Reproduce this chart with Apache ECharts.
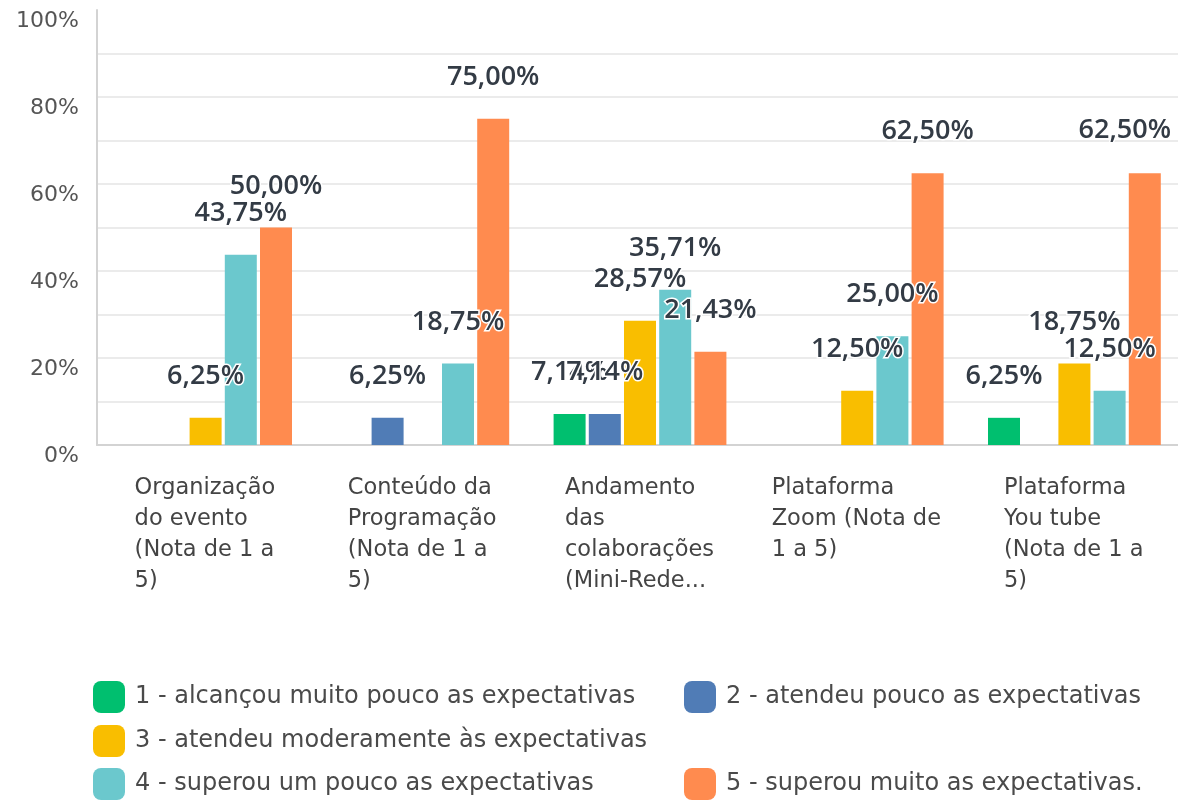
<!DOCTYPE html>
<html>
<head>
<meta charset="utf-8">
<script src="https://cdn.jsdelivr.net/npm/echarts@6/dist/echarts.min.js"></script>
<style>html,body{margin:0;padding:0;background:#fff;overflow:hidden}#c{width:1190px;height:802px}</style>
</head>
<body>
<div id="c"></div>
<script>
const categories = [
  "Organização\ndo evento\n(Nota de 1 a\n5)",
  "Conteúdo da\nProgramação\n(Nota de 1 a\n5)",
  "Andamento\ndas\ncolaborações\n(Mini-Rede...",
  "Plataforma\nZoom (Nota de\n1 a 5)",
  "Plataforma\nYou tube\n(Nota de 1 a\n5)"
];
const seriesNames = [
  "1 - alcançou muito pouco as expectativas",
  "2 - atendeu pouco as expectativas",
  "3 - atendeu moderamente às expectativas",
  "4 - superou um pouco as expectativas",
  "5 - superou muito as expectativas."
];
const s1 = [0, 0, 7.14, 0, 6.25];
const s2 = [0, 6.25, 7.14, 0, 0];
const s3 = [6.25, 0, 28.57, 12.50, 18.75];
const s4 = [43.75, 18.75, 35.71, 25.00, 12.50];
const s5 = [50.00, 75.00, 21.43, 62.50, 62.50];
const seriesValues = [s1, s2, s3, s4, s5];
const colors = ["#00bf6f", "#507cb6", "#f9be00", "#6bc8cd", "#ff8b4f"];

const FONT = '"DejaVu Sans", sans-serif';
const xFontSize = 22.5;
const ctx = document.createElement('canvas').getContext('2d');
ctx.font = xFontSize + 'px "DejaVu Sans"';
const rich = {};
categories.forEach((c, i) => {
  const w = Math.max(...c.split('\n').map(l => ctx.measureText(l).width));
  rich['c' + i] = {width: Math.ceil(w) + 1, align: 'left', fontSize: xFontSize, fontFamily: FONT, color: '#444', lineHeight: 31};
});

const VIEW_W = 1178;
const chart = echarts.init(document.getElementById('c'));
const fmt = v => v ? v.toFixed(2).replace('.', ',') + '%' : '';

const legendPos = [[93, 681], [684, 681], [93, 725], [93, 768], [684, 768]];

chart.setOption({
  animation: false,
  grid: {left: 97, top: 10, bottom: 357, width: 1086, containLabel: false},
  xAxis: {
    type: 'category',
    data: categories,
    axisLine: {show: true, lineStyle: {color: '#d3d3d3', width: 2}},
    axisTick: {show: false},
    axisLabel: {
      interval: 0,
      margin: 28,
      align: 'center',
      verticalAlign: 'top',
      formatter: (v, i) => v.split('\n').map(l => '{c' + i + '|' + l + '}').join('\n'),
      rich: rich
    }
  },
  yAxis: {
    type: 'value',
    min: 0, max: 100, interval: 10,
    axisLine: {show: true, lineStyle: {color: '#d3d3d3', width: 2}},
    axisTick: {show: false},
    splitLine: {show: true, showMaxLine: false, showMinLine: false, lineStyle: {color: '#ebebeb', width: 2}},
    axisLabel: {
      margin: 18,
      fontSize: 22,
      fontFamily: FONT,
      color: '#555',
      verticalAlign: 'top',
      formatter: v => (v % 20 === 0 ? v + '%' : '')
    }
  },
  legend: seriesNames.map((n, i) => ({
    data: [n],
    left: legendPos[i][0],
    top: legendPos[i][1],
    padding: 0,
    icon: 'roundRect',
    itemWidth: 32,
    itemHeight: 32,
    selectedMode: false,
    textStyle: {fontSize: 24, fontFamily: FONT, color: '#4a4a4a', padding: [0, 0, 0, 5]}
  })),
  labelLayout: p => {
    const r = p.labelRect;
    if (r.x + r.width > VIEW_W - 4) {
      return {x: VIEW_W - 4 - r.width, y: r.y, align: 'left', verticalAlign: 'top'};
    }
    return {};
  },
  series: seriesNames.map((n, i) => ({
    name: n,
    type: 'bar',
    data: seriesValues[i],
    barWidth: 32,
    barGap: '10%',
    itemStyle: {color: colors[i]},
    label: {
      show: true,
      position: 'top',
      distance: 28,
      formatter: p => fmt(p.value),
      fontSize: 27,
      fontWeight: 600,
      fontFamily: '"Open Sans", sans-serif',
      color: '#333b45',
      textBorderColor: '#fff',
      textBorderWidth: 3
    }
  }))
});
</script>
</body>
</html>
